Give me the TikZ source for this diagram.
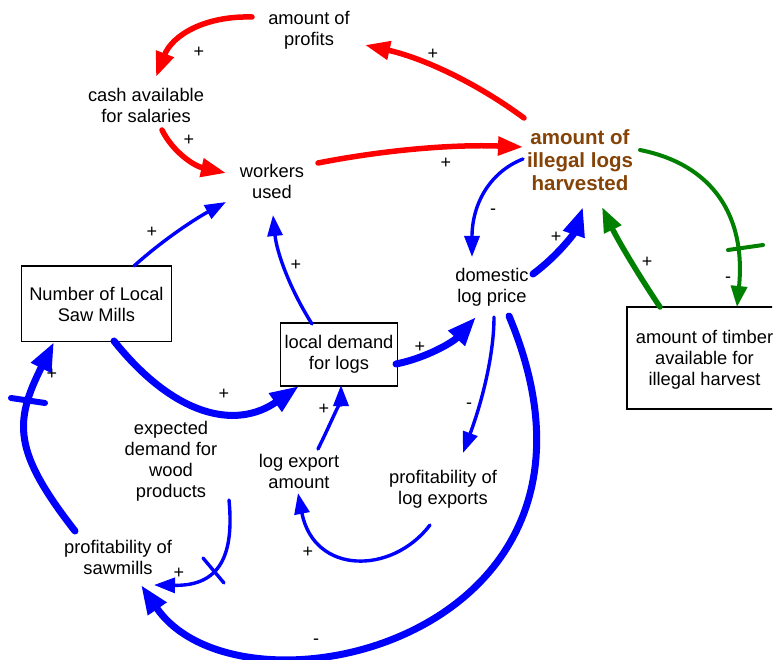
\documentclass[tikz,border=0pt]{standalone}
\usepackage{fontspec}
\setmainfont{Liberation Sans}
\usetikzlibrary{arrows.meta}
\definecolor{cldred}{RGB}{255,0,0}
\definecolor{cldblue}{RGB}{0,0,255}
\definecolor{cldgreen}{RGB}{0,128,0}
\definecolor{cldbrown}{RGB}{133,67,8}
\begin{document}
\begin{tikzpicture}[x=1pt,y=-1pt,
  var/.style={align=center,inner sep=0pt,font=\fontsize{18.3}{21}\selectfont},
  stock/.style={var,draw=black,line width=1.3pt},
  boxline/.style={draw=black,line width=1.3pt},
  keyvar/.style={align=center,inner sep=0pt,text=cldbrown,font=\fontsize{20.5}{23}\selectfont\bfseries},
  pol/.style={inner sep=0pt,font=\fontsize{18}{18}\selectfont},
  link/.style={line cap=round},
  redlink/.style={link,draw=cldred,line width=5.5pt,-{Triangle[length=25pt,width=18pt]}},
  bluelink/.style={link,draw=cldblue,line width=3.4pt,-{Triangle[length=21pt,width=15pt]}},
  bluethick/.style={link,draw=cldblue,line width=7pt,-{Triangle[length=29pt,width=21pt]}},
  greenlink/.style={link,draw=cldgreen,line width=4pt,-{Triangle[length=21pt,width=16pt]}},
  greenthick/.style={link,draw=cldgreen,line width=5.5pt,-{Triangle[length=25pt,width=18pt]}},
  delaymark/.style={line width=#1,line cap=round}
]
\path[use as bounding box,fill=white] (0,0) rectangle (774,660);

% variables
\node[var] (profits) at (309,30.5) {amount of\\profits};
\node[var] (cash) at (146,105) {cash available\\for salaries};
\node[var] (workers) at (272,181) {workers\\used};
\node[keyvar] (illegal) at (580,160) {amount of\\illegal logs\\harvested};
\node[var] (domestic) at (492,287) {domestic\\log price};
\node[stock,minimum width=150pt,minimum height=75.7pt] (mills) at (96.4,304) {Number of Local\\Saw Mills};
\node[stock,minimum width=117.5pt,minimum height=62.7pt] (localdemand) at (339,354.5) {local demand\\for logs};
\node[var] (timber) at (704.5,360) {amount of timber\\available for\\illegal harvest};
\begin{scope}
  \clip (0,0) rectangle (772,660);
  \draw[boxline] ([shift={(-77.5,-53)}]timber.center) rectangle ([shift={(120,49)}]timber.center);
\end{scope}
\node[var] (expected) at (171,461) {expected\\demand for\\wood\\products};
\node[var] (logexport) at (299,471) {log export\\amount};
\node[var] (profexp) at (443,489.5) {profitability of\\log exports};
\node[var] (profsaw) at (118,557) {profitability of\\sawmills};

% red loop
\draw[redlink] ([shift={(-57,-13.5)}]profits.center) .. controls (204,15.7) and (172,35.7) .. ([shift={(10,-28)}]cash.center);
\draw[redlink] ([shift={(16,25)}]cash.center) .. controls (172.7,151.7) and (194,166) .. ([shift={(-46,-8)}]workers.center);
\draw[redlink] ([shift={(46,-18)}]workers.center) .. controls (385.7,149.7) and (454,144.3) .. ([shift={(-57,-13)}]illegal.center);
\draw[redlink] ([shift={(-56,-42)}]illegal.center) .. controls (475.7,82.3) and (422.7,58) .. ([shift={(56,14.5)}]profits.center);

% illegal logs and price
\draw[bluelink] ([shift={(-57,-1)}]illegal.center) .. controls (489,172.3) and (472,205) .. ([shift={(-20,-30)}]domestic.center);
\draw[bluethick] ([shift={(41,-13)}]domestic.center) .. controls (557.5,255.9) and (574.1,233.5) .. ([shift={(3,47)}]illegal.center);

% green loop
\draw[greenthick] ([shift={(-44.5,-53)}]timber.center) .. controls (636.7,272.3) and (617.3,239) .. ([shift={(22,47)}]illegal.center);
\draw[greenlink] ([shift={(60,-10)}]illegal.center) .. controls (713.7,164.7) and (746,217.1) .. ([shift={(32.5,-53)}]timber.center);
\draw[cldgreen,delaymark=4pt] (728,250) -- (763,245);

% blue links
\draw[bluelink] ([shift={(37.6,-38)}]mills.center) .. controls (162,240.7) and (193.7,219.7) .. ([shift={(-46,21)}]workers.center);
\draw[bluelink] ([shift={(-27,-30.5)}]localdemand.center) .. controls (289.7,288.7) and (276.7,252.3) .. ([shift={(1,34)}]workers.center);
\draw[bluethick] ([shift={(17.6,37)}]mills.center) .. controls (173.7,415.6) and (235.3,430.6) .. ([shift={(-40,31.5)}]localdemand.center);
\draw[bluethick] ([shift={(57,9.5)}]localdemand.center) .. controls (426.4,357.9) and (453.1,342.1) .. ([shift={(-16,30)}]domestic.center);
\draw[bluelink] ([shift={(19,-22)}]logexport.center) .. controls (333.3,418.3) and (341,397) .. ([shift={(2,30.5)}]localdemand.center);
\draw[bluelink] ([shift={(2,30)}]domestic.center) .. controls (494,351.8) and (483.7,397.1) .. ([shift={(20,-36.5)}]profexp.center);
\draw[bluelink] ([shift={(-13,35.5)}]profexp.center) .. controls (392,575) and (314,575) .. ([shift={(-1,22)}]logexport.center);
\draw[bluethick] ([shift={(17,29)}]domestic.center) .. controls (645,640) and (240,730) .. ([shift={(23,28)}]profsaw.center);
\draw[bluelink] ([shift={(58,39)}]expected.center) .. controls (235,562) and (215,586) .. ([shift={(36,28)}]profsaw.center);
\draw[cldblue,delaymark=3.4pt] (203,558) -- (224,583);
\draw[bluethick] ([shift={(-43,-26)}]profsaw.center) .. controls (12.6,451) and (14,422) .. ([shift={(-42.4,38)}]mills.center);
\draw[cldblue,delaymark=6pt] (11,398) -- (45,403);

% polarities
\node[pol] at (199,52) {+};
\node[pol] at (189,140) {+};
\node[pol] at (446,163) {+};
\node[pol] at (433,54) {+};
\node[pol] at (493,212) {-};
\node[pol] at (556,237) {+};
\node[pol] at (647,262) {+};
\node[pol] at (728,280) {-};
\node[pol] at (152,232) {+};
\node[pol] at (296,265) {+};
\node[pol] at (224,394) {+};
\node[pol] at (420,347) {+};
\node[pol] at (324,409) {+};
\node[pol] at (469,406) {-};
\node[pol] at (308,552) {+};
\node[pol] at (316,642) {-};
\node[pol] at (179,573) {+};
\node[pol] at (52,374) {+};
\end{tikzpicture}
\end{document}
